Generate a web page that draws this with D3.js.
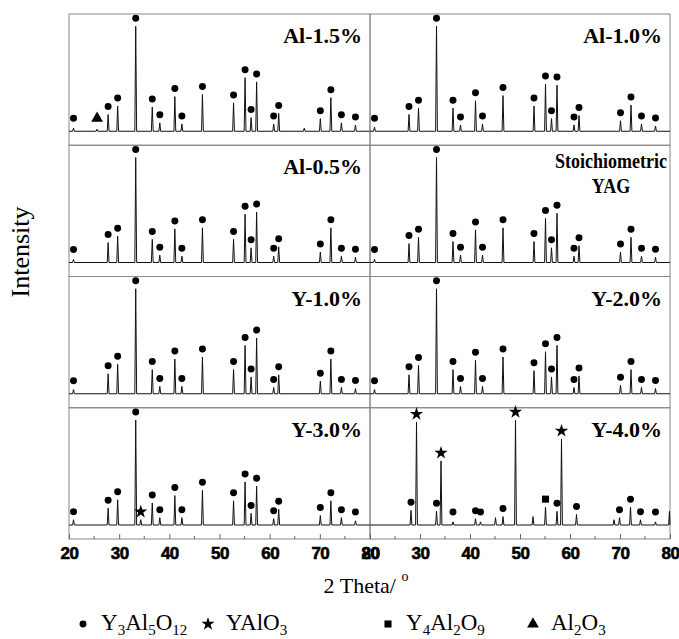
<!DOCTYPE html>
<html>
<head>
<meta charset="utf-8">
<script src="https://cdn.jsdelivr.net/npm/d3@7"></script>
<style>
body { margin: 0; background: #fff; }
svg { display: block; }
</style>
</head>
<body>
<svg width="679" height="639"></svg>
<script>
const xTicks = [20, 30, 40, 50, 60, 70, 80];
const minorTicks = [25, 35, 45, 55, 65, 75];
const panelLabels = ['Al-1.5%', 'Al-1.0%', 'Al-0.5%', 'Stoichiometric|YAG', 'Y-1.0%', 'Y-2.0%', 'Y-3.0%', 'Y-4.0%'];

// Y3Al5O12 reflections (2 theta)
const yagPos = [20.9, 27.8, 29.7, 33.3, 36.6, 38.1, 41.1, 42.5, 46.6, 52.8, 55.1, 56.3, 57.4, 60.8, 61.8, 70.1, 72.2, 74.3, 77.1];
// relative intensities, same order as yagPos
const al15 = [3, 16, 24, 100, 23, 8, 33, 7, 35, 27, 51, 13, 47, 7, 17, 12, 32, 8, 6];
const al10 = [4, 16, 22, 100, 22, 6, 29, 7, 34, 24, 45, 12, 44, 6, 15, 10, 25, 7, 5];
const al05 = [3, 19, 25, 100, 22, 7, 32, 6, 33, 22, 46, 14, 48, 6, 15, 10, 33, 6, 5];
const stoich = [3, 18, 24, 100, 20, 7, 31, 7, 33, 20, 42, 14, 47, 6, 16, 10, 24, 6, 5];
const y10 = [4, 19, 28, 100, 23, 7, 33, 7, 35, 23, 46, 16, 53, 6, 18, 12, 33, 6, 5];
const y20 = [4, 18, 27, 100, 23, 7, 32, 7, 35, 22, 40, 16, 46, 6, 17, 8, 23, 6, 5];
const y30 = [5, 16, 24, 100, 21, 7, 28, 7, 33, 23, 41, 11, 37, 6, 15, 9, 23, 7, 4];

// extra peaks: [2theta, intensity, phase]
const al15Extra = [[25.6, 2, 'A'], [66.9, 3, '']];
const y30Extra = [[34.3, 5, 'P']];

// Y-4.0% sample
const y40Pos = [28.2, 29.3, 33.3, 34.2, 36.6, 41.1, 42.1, 45.1, 46.6, 49.1, 52.6, 55.1, 57.4, 58.3, 61.3, 68.8, 69.9, 72.1, 74.1, 77.1, 79.9];
const y40Int = [14, 98, 13, 61, 3, 6, 3, 7, 8, 100, 8, 17, 13, 82, 10, 5, 7, 17, 5, 3, 13];
const y40Phase = ['Y', 'P', 'Y', 'P', 'Y', 'Y', 'Y', '', 'Y', 'P', '', 'M', 'Y', 'P', 'Y', '', 'Y', 'Y', 'Y', 'Y', ''];

const legendLabels = ['Y3Al5O12', 'YAlO3', 'Y4Al2O9', 'Al2O3'];
const legendPhases = ['Y', 'P', 'M', 'A'];

function yagSet(ints, extra) {
	const list = yagPos.map((p, i) => [p, ints[i], 'Y']);
	return list.concat(extra || []).sort((a, b) => a[0] - b[0]);
}

const panels = [
	yagSet(al15, al15Extra),
	yagSet(al10),
	yagSet(al05),
	yagSet(stoich),
	yagSet(y10),
	yagSet(y20),
	yagSet(y30, y30Extra),
	y40Pos.map((p, i) => [p, y40Int[i], y40Phase[i]])
];

const svg = d3.select('svg');
const plotLeft = 69, plotMid = 370, plotRight = 670;
const plotTop = 14, rowH = 131.25;
const serif = '"Liberation Serif", "Times New Roman", serif';

const xs = [
	d3.scaleLinear().domain([20, 80]).range([plotLeft, plotMid]).clamp(true),
	d3.scaleLinear().domain([20, 80]).range([plotMid, plotRight]).clamp(true)
];

const symbols = {
	Y: d3.symbol().type(d3.symbolCircle).size(38),
	P: d3.symbol().type(d3.symbolStar).size(55),
	M: d3.symbol().type(d3.symbolSquare).size(50),
	A: d3.symbol().type(d3.symbolTriangle).size(60)
};

panels.forEach((peaks, i) => {
	const col = i % 2;
	const row = Math.floor(i / 2);
	const x = xs[col];
	const y0 = plotTop + row * rowH;
	const y1 = y0 + rowH;
	const base = y1 - 14;
	const y = d3.scaleLinear().domain([0, 100]).range([base, base - 105]);

	const g = svg.append('g');

	g.append('rect')
		.attr('x', x.range()[0])
		.attr('y', y0)
		.attr('width', x.range()[1] - x.range()[0])
		.attr('height', rowH)
		.attr('fill', 'none')
		.attr('stroke', '#888')
		.attr('stroke-width', 1);

	// pattern built from the peak list
	const pts = [[20, 0]];
	peaks.forEach(d => {
		pts.push([d[0] - 0.18, 0], [d[0], d[1]], [d[0] + 0.18, 0]);
	});
	pts.push([80, 0]);

	const line = d3.line().x(d => x(d[0])).y(d => y(d[1]));

	g.append('path')
		.datum(pts)
		.attr('d', line)
		.attr('fill', 'none')
		.attr('stroke', '#111')
		.attr('stroke-width', 1);

	g.selectAll('.mark')
		.data(peaks.filter(d => d[2]))
		.enter().append('path')
		.attr('class', 'mark')
		.attr('d', d => symbols[d[2]]())
		.attr('transform', d => 'translate(' + x(d[0]) + ',' + Math.min(y(d[1]) - 8, base - 13) + ')')
		.attr('fill', '#000');

	const label = panelLabels[i].split('|');
	if (label.length === 1) {
		g.append('text')
			.attr('x', x.range()[1] - 8)
			.attr('y', y0 + 29)
			.attr('text-anchor', 'end')
			.style('font-family', serif)
			.style('font-weight', 'bold')
			.style('font-size', '22px')
			.text(label[0]);
	} else {
		label.forEach((t, k) => {
			g.append('text')
				.attr('transform', 'translate(' + (x.range()[1] - 59) + ',' + (y0 + 23 + k * 25) + ') scale(1,1.12)')
				.attr('text-anchor', 'middle')
				.style('font-family', serif)
				.style('font-weight', 'bold')
				.style('font-size', '18px')
				.text(t);
		});
	}

	if (row === 3) {
		g.selectAll('.minor')
			.data(minorTicks)
			.enter().append('line')
			.attr('x1', d => x(d)).attr('x2', d => x(d))
			.attr('y1', y1).attr('y2', y1 - 3)
			.attr('stroke', '#666');

		const axis = g.append('g')
			.attr('transform', 'translate(0,' + y1 + ')')
			.call(d3.axisBottom(x).tickValues(xTicks).tickSize(-5).tickPadding(8).tickFormat(d3.format('d')));
		axis.select('.domain').remove();
		axis.selectAll('line').attr('stroke', '#666');
		axis.selectAll('text')
			.attr('fill', '#000')
			.attr('stroke', '#000')
			.attr('stroke-width', 0.6)
			.style('font-family', '"Liberation Sans", Arial, sans-serif')
			.style('font-weight', 'bold')
			.style('font-size', '17px')
			.style('letter-spacing', '-0.5px');
	}
});

// axis titles
svg.append('text')
	.attr('transform', 'translate(29,252) rotate(-90)')
	.attr('text-anchor', 'middle')
	.style('font-family', serif)
	.style('font-size', '26px')
	.text('Intensity');

const xt = svg.append('text')
	.attr('x', 366)
	.attr('y', 593)
	.attr('text-anchor', 'middle')
	.style('font-family', serif)
	.style('font-size', '22px');
xt.append('tspan').text('2  Theta/ ');
xt.append('tspan').attr('dy', -12).style('font-size', '14px').text('o');

// legend
function formula(sel, str) {
	const parts = str.match(/\d+|\D+/g);
	let shifted = false;
	parts.forEach(p => {
		const isNum = /\d/.test(p);
		const t = sel.append('tspan').text(p);
		if (isNum) {
			t.attr('dy', 5).style('font-size', '15px');
			shifted = true;
		} else if (shifted) {
			t.attr('dy', -5);
			shifted = false;
		}
	});
}

const legendX = [83, 208, 388, 533];
legendPhases.forEach((ph, i) => {
	svg.append('path')
		.attr('d', symbols[ph]())
		.attr('transform', 'translate(' + legendX[i] + ',624)')
		.attr('fill', '#000');
	const t = svg.append('text')
		.attr('x', legendX[i] + 18)
		.attr('y', 630)
		.style('font-family', serif)
		.style('font-size', '23px');
	formula(t, legendLabels[i]);
});
</script>
</body>
</html>
